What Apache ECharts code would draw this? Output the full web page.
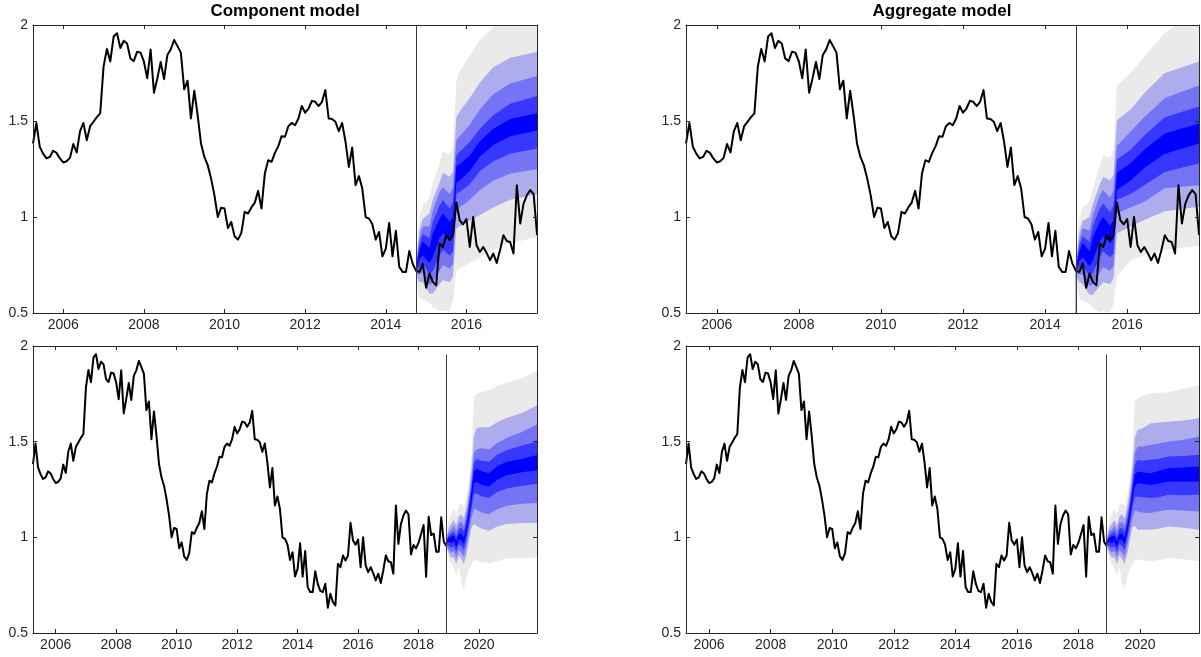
<!DOCTYPE html>
<html><head><meta charset="utf-8">
<script src="https://cdn.jsdelivr.net/npm/echarts@6/dist/echarts.min.js"></script>
<style>html,body{margin:0;padding:0;background:#fff}#c{width:1201px;height:657px}</style>
</head><body><div id="c"></div>
<script>
// ---------- history (monthly, from April 2005) ----------
const histStart = 2005.25;
const hist2005 = [1.383, 1.49, 1.366, 1.33, 1.305, 1.313, 1.345, 1.334, 1.305];
const hist2006 = [1.284, 1.29, 1.308, 1.38, 1.336, 1.447, 1.49, 1.40, 1.473, 1.496, 1.52, 1.54];
const hist2007 = [1.783, 1.875, 1.81, 1.94, 1.957, 1.88, 1.918, 1.904, 1.826, 1.812, 1.861, 1.856];
const hist2008 = [1.81, 1.722, 1.873, 1.647, 1.722, 1.807, 1.718, 1.844, 1.873, 1.922, 1.89, 1.856];
const hist2009 = [1.665, 1.71, 1.513, 1.658, 1.53, 1.383, 1.313, 1.27, 1.20, 1.113, 1.0, 1.049];
const hist2010 = [1.044, 0.943, 0.974, 0.90, 0.882, 0.917, 1.027, 1.018, 1.05, 1.075, 1.136, 1.044];
const hist2011 = [1.227, 1.296, 1.287, 1.334, 1.369, 1.421, 1.418, 1.473, 1.49, 1.478, 1.513, 1.578];
const hist2012 = [1.543, 1.565, 1.605, 1.60, 1.578, 1.60, 1.661, 1.513, 1.51, 1.496, 1.447, 1.49];
const hist2013 = [1.392, 1.261, 1.362, 1.166, 1.213, 1.148, 1.0, 0.992, 0.962, 0.882, 0.922, 0.795];
const hist2014 = [0.835, 0.969, 0.795, 0.928, 0.74, 0.714, 0.714, 0.823, 0.757, 0.72, 0.714, 0.757];
const hist2015 = [0.632, 0.705, 0.662, 0.644, 0.862, 0.844, 0.905, 0.879, 0.905, 1.076, 0.983, 0.962];
const hist2016 = [0.989, 0.844, 1.0, 0.853, 0.818, 0.844, 0.813, 0.775, 0.81, 0.761, 0.827, 0.905];
const hist2017 = [0.875, 0.87, 0.81, 1.166, 0.966, 1.07, 1.114, 1.14, 1.119, 0.91, 0.96, 0.942];
const hist2018 = [0.972, 1.017, 1.064, 0.794, 1.108, 1.012, 1.02, 0.925, 0.925, 1.105, 0.977, 0.955];

// ---------- axes ----------
const originTop = 2014.75;          // Oct 2014
const originBottom = 2018 + 11/12;  // Dec 2018
const xMinAll = 2005.25;
const xMaxTop = 2017.75;
const xMaxBottom = 2021 + 11/12;
const yearTicksTop = [2006, 2008, 2010, 2012, 2014, 2016];
const yearTicksBottom = [2006, 2008, 2010, 2012, 2014, 2016, 2018, 2020];
const titles = ['Component model', 'Aggregate model'];

// ---------- fan: Component model, 2014 origin (months ahead) ----------
const ctMonths = [0, 1, 2, 4, 5, 7, 8, 10, 11, 12, 13, 16, 19, 23, 28, 36];
const ctGT = [0.77, 1.00, 1.06, 1.10, 1.17, 1.28, 1.34, 1.33, 1.37, 1.71, 1.76, 1.84, 1.92, 1.99, 2.06, 2.12];
const ctLT = [0.755, 0.93, 0.99, 1.02, 1.09, 1.18, 1.23, 1.21, 1.24, 1.52, 1.55, 1.62, 1.70, 1.78, 1.83, 1.86];
const ctMT = [0.745, 0.89, 0.95, 0.95, 1.035, 1.13, 1.155, 1.12, 1.155, 1.40, 1.42, 1.48, 1.56, 1.64, 1.695, 1.735];
const ctBT = [0.738, 0.86, 0.91, 0.89, 0.975, 1.06, 1.088, 1.044, 1.08, 1.32, 1.34, 1.39, 1.46, 1.53, 1.59, 1.63];
const ctDT = [0.73, 0.83, 0.875, 0.84, 0.915, 0.99, 1.018, 0.975, 1.0, 1.265, 1.275, 1.32, 1.395, 1.46, 1.51, 1.54];
const ctDB = [0.72, 0.78, 0.80, 0.76, 0.79, 0.89, 0.914, 0.88, 0.90, 1.18, 1.19, 1.24, 1.315, 1.375, 1.42, 1.45];
const ctBB = [0.712, 0.74, 0.76, 0.70, 0.72, 0.80, 0.83, 0.80, 0.82, 1.12, 1.13, 1.17, 1.24, 1.29, 1.33, 1.357];
const ctMB = [0.705, 0.70, 0.71, 0.645, 0.66, 0.72, 0.75, 0.73, 0.757, 1.04, 1.05, 1.09, 1.14, 1.19, 1.225, 1.25];
const ctLB = [0.695, 0.66, 0.66, 0.60, 0.60, 0.65, 0.67, 0.66, 0.69, 0.94, 0.95, 0.98, 1.01, 1.05, 1.09, 1.12];
const ctGB = [0.68, 0.58, 0.57, 0.555, 0.53, 0.51, 0.514, 0.505, 0.566, 0.72, 0.73, 0.76, 0.79, 0.83, 0.865, 0.895];

// ---------- fan: Aggregate model, 2014 origin ----------
const atMonths = [0, 1, 2, 4, 5, 7, 8, 10, 11, 12, 16, 20, 26, 36];
const atGT = [0.77, 0.99, 1.05, 1.08, 1.15, 1.27, 1.32, 1.31, 1.35, 1.68, 1.75, 1.835, 1.96, 2.07];
const atLT = [0.755, 0.92, 0.98, 1.00, 1.07, 1.17, 1.21, 1.19, 1.22, 1.505, 1.56, 1.645, 1.75, 1.81];
const atMT = [0.745, 0.88, 0.94, 0.93, 1.01, 1.115, 1.14, 1.10, 1.135, 1.37, 1.445, 1.52, 1.62, 1.685];
const atBT = [0.738, 0.85, 0.90, 0.87, 0.955, 1.045, 1.07, 1.025, 1.06, 1.30, 1.35, 1.425, 1.52, 1.576];
const atDT = [0.73, 0.82, 0.865, 0.82, 0.895, 0.975, 1.0, 0.955, 0.985, 1.23, 1.28, 1.35, 1.435, 1.487];
const atDB = [0.72, 0.77, 0.79, 0.745, 0.775, 0.875, 0.90, 0.865, 0.885, 1.14, 1.19, 1.255, 1.33, 1.383];
const atBB = [0.712, 0.735, 0.75, 0.69, 0.71, 0.79, 0.82, 0.79, 0.81, 1.09, 1.12, 1.165, 1.235, 1.279];
const atMB = [0.705, 0.70, 0.70, 0.64, 0.65, 0.71, 0.74, 0.72, 0.745, 1.02, 1.05, 1.08, 1.15, 1.165];
const atLB = [0.695, 0.66, 0.65, 0.595, 0.595, 0.64, 0.66, 0.65, 0.68, 0.915, 0.95, 0.985, 1.03, 1.053];
const atGB = [0.68, 0.58, 0.565, 0.55, 0.525, 0.505, 0.51, 0.50, 0.55, 0.69, 0.775, 0.80, 0.83, 0.85];

// ---------- fan: Component model, 2018 origin ----------
const cbMonths = [0, 1, 2, 3, 4, 5, 6, 7, 8, 9, 10, 11, 12, 14, 17, 20, 24, 30, 36];
const cbGT = [1.00, 1.09, 1.12, 1.15, 1.12, 1.17, 1.18, 1.16, 1.22, 1.30, 1.42, 1.73, 1.75, 1.76, 1.77, 1.79, 1.81, 1.83, 1.87];
const cbLT = [0.99, 1.05, 1.07, 1.09, 1.06, 1.11, 1.12, 1.10, 1.16, 1.24, 1.36, 1.53, 1.57, 1.575, 1.575, 1.60, 1.625, 1.65, 1.69];
const cbMT = [0.985, 1.03, 1.04, 1.06, 1.03, 1.075, 1.08, 1.06, 1.12, 1.20, 1.31, 1.44, 1.46, 1.465, 1.46, 1.49, 1.52, 1.55, 1.59];
const cbBT = [0.98, 1.01, 1.02, 1.03, 1.00, 1.045, 1.05, 1.03, 1.09, 1.17, 1.27, 1.39, 1.41, 1.40, 1.395, 1.43, 1.455, 1.48, 1.50];
const cbDT = [0.975, 1.00, 1.005, 1.01, 0.98, 1.02, 1.02, 1.00, 1.06, 1.14, 1.24, 1.345, 1.36, 1.345, 1.335, 1.37, 1.395, 1.41, 1.43];
const cbDB = [0.97, 0.975, 0.97, 0.98, 0.95, 0.99, 0.985, 0.965, 1.02, 1.10, 1.19, 1.28, 1.29, 1.275, 1.265, 1.30, 1.325, 1.34, 1.35];
const cbBB = [0.965, 0.955, 0.945, 0.955, 0.925, 0.965, 0.955, 0.935, 0.99, 1.065, 1.15, 1.225, 1.23, 1.215, 1.205, 1.235, 1.255, 1.27, 1.28];
const cbMB = [0.96, 0.935, 0.92, 0.93, 0.895, 0.935, 0.92, 0.90, 0.955, 1.025, 1.10, 1.15, 1.145, 1.13, 1.12, 1.145, 1.165, 1.175, 1.18];
const cbLB = [0.955, 0.915, 0.895, 0.895, 0.86, 0.905, 0.885, 0.86, 0.91, 0.98, 1.05, 1.07, 1.06, 1.045, 1.035, 1.055, 1.07, 1.075, 1.075];
const cbGB = [0.95, 0.885, 0.86, 0.84, 0.80, 0.85, 0.76, 0.73, 0.79, 0.83, 0.86, 0.88, 0.88, 0.87, 0.865, 0.875, 0.89, 0.89, 0.895];

// ---------- fan: Aggregate model, 2018 origin ----------
const abMonths = [0, 1, 2, 3, 4, 5, 6, 7, 8, 9, 10, 11, 12, 14, 17, 20, 24, 30, 36];
const abGT = [1.00, 1.09, 1.12, 1.15, 1.12, 1.17, 1.18, 1.16, 1.22, 1.30, 1.42, 1.71, 1.726, 1.74, 1.752, 1.755, 1.76, 1.775, 1.795];
const abLT = [0.99, 1.05, 1.07, 1.09, 1.06, 1.11, 1.12, 1.10, 1.16, 1.24, 1.36, 1.52, 1.56, 1.57, 1.595, 1.60, 1.604, 1.61, 1.622];
const abMT = [0.985, 1.03, 1.04, 1.06, 1.03, 1.075, 1.08, 1.06, 1.12, 1.20, 1.31, 1.44, 1.474, 1.475, 1.483, 1.49, 1.50, 1.51, 1.526];
const abBT = [0.98, 1.01, 1.02, 1.03, 1.00, 1.045, 1.05, 1.03, 1.09, 1.17, 1.27, 1.38, 1.405, 1.40, 1.405, 1.41, 1.422, 1.425, 1.431];
const abDT = [0.975, 1.00, 1.005, 1.01, 0.98, 1.02, 1.02, 1.00, 1.06, 1.14, 1.24, 1.33, 1.344, 1.34, 1.335, 1.345, 1.361, 1.365, 1.37];
const abDB = [0.97, 0.975, 0.97, 0.98, 0.95, 0.99, 0.985, 0.965, 1.02, 1.10, 1.19, 1.27, 1.283, 1.28, 1.274, 1.28, 1.292, 1.29, 1.292];
const abBB = [0.965, 0.955, 0.945, 0.955, 0.925, 0.965, 0.955, 0.935, 0.99, 1.065, 1.15, 1.21, 1.214, 1.21, 1.205, 1.21, 1.222, 1.22, 1.222];
const abMB = [0.96, 0.935, 0.92, 0.93, 0.895, 0.935, 0.92, 0.90, 0.955, 1.025, 1.10, 1.14, 1.135, 1.13, 1.127, 1.135, 1.144, 1.14, 1.135];
const abLB = [0.955, 0.915, 0.895, 0.895, 0.86, 0.905, 0.885, 0.86, 0.91, 0.98, 1.05, 1.06, 1.04, 1.04, 1.04, 1.045, 1.057, 1.05, 1.04];
const abGB = [0.95, 0.885, 0.86, 0.84, 0.80, 0.85, 0.76, 0.73, 0.79, 0.83, 0.86, 0.88, 0.884, 0.88, 0.875, 0.88, 0.892, 0.885, 0.875];

// ---------- build ----------
const histValues = [].concat(hist2005, hist2006, hist2007, hist2008, hist2009, hist2010, hist2011,
  hist2012, hist2013, hist2014, hist2015, hist2016, hist2017, hist2018);
const histData = histValues.map((v, i) => [histStart + i / 12, v]);

// layered fills, drawn top boundary first; each fills down to axis minimum
const fillColors = ['#eaeaea', '#adadee', '#7474f4', '#3737ff', '#0000ff',
                    '#3737ff', '#7474f4', '#adadee', '#eaeaea', '#ffffff'];
const axisColor = '#262626';
const fontFam = 'Liberation Sans, Arial, Helvetica, sans-serif';

const grids = [
  {left: 33, top: 25, width: 504, height: 288},
  {left: 686, top: 25, width: 513, height: 288},
  {left: 33, top: 346, width: 504, height: 287},
  {left: 686, top: 346, width: 513, height: 287}
];
const panels = [
  {origin: originTop, xMax: xMaxTop, ticks: yearTicksTop, months: ctMonths,
   bounds: [ctGT, ctLT, ctMT, ctBT, ctDT, ctDB, ctBB, ctMB, ctLB, ctGB], vTop: 2.0},
  {origin: originTop, xMax: xMaxTop, ticks: yearTicksTop, months: atMonths,
   bounds: [atGT, atLT, atMT, atBT, atDT, atDB, atBB, atMB, atLB, atGB], vTop: 2.0},
  {origin: originBottom, xMax: xMaxBottom, ticks: yearTicksBottom, months: cbMonths,
   bounds: [cbGT, cbLT, cbMT, cbBT, cbDT, cbDB, cbBB, cbMB, cbLB, cbGB], vTop: 1.955},
  {origin: originBottom, xMax: xMaxBottom, ticks: yearTicksBottom, months: abMonths,
   bounds: [abGT, abLT, abMT, abBT, abDT, abDB, abBB, abMB, abLB, abGB], vTop: 1.955}
];

const xAxes = [], yAxes = [], series = [];
panels.forEach((p, i) => {
  const common = {type: 'value', gridIndex: i, min: xMinAll, max: p.xMax, z: 20,
    splitLine: {show: false},
    axisLine: {show: true, onZero: false, lineStyle: {color: axisColor, width: 1}}};
  xAxes.push(Object.assign({}, common, {position: 'bottom',
    axisTick: {show: true, inside: true, length: 4, customValues: p.ticks, lineStyle: {color: axisColor}},
    axisLabel: {show: true, customValues: p.ticks, margin: 5, color: axisColor, fontSize: 14,
      fontFamily: fontFam, formatter: v => String(v)}}));
  xAxes.push(Object.assign({}, common, {position: 'top',
    axisTick: {show: true, inside: true, length: 4, customValues: p.ticks, lineStyle: {color: axisColor}},
    axisLabel: {show: false, customValues: p.ticks}}));
  const ycommon = {type: 'value', gridIndex: i, min: 0.5, max: 2, interval: 0.5, z: 20,
    splitLine: {show: false},
    axisLine: {show: true, onZero: false, lineStyle: {color: axisColor, width: 1}},
    axisTick: {show: true, inside: true, length: 4, lineStyle: {color: axisColor}}};
  yAxes.push(Object.assign({}, ycommon, {position: 'left',
    axisLabel: {show: true, margin: 5, color: axisColor, fontSize: 14, fontFamily: fontFam}}));
  yAxes.push(Object.assign({}, ycommon, {position: 'right', axisLabel: {show: false}}));

  p.bounds.forEach((b, k) => {
    series.push({type: 'line', xAxisIndex: 2 * i, yAxisIndex: 2 * i, z: 2 + k,
      silent: true, showSymbol: false, symbol: 'none', clip: true, animation: false,
      lineStyle: {width: 0, opacity: 0},
      areaStyle: {origin: 'start', color: fillColors[k], opacity: 1},
      data: p.months.map((m, j) => [p.origin + m / 12, b[j]])});
  });
  series.push({type: 'line', xAxisIndex: 2 * i, yAxisIndex: 2 * i, z: 14,
    silent: true, showSymbol: false, symbol: 'none', clip: true, animation: false,
    lineStyle: {color: '#000000', width: 2, join: 'round'},
    data: histData,
    markLine: {silent: true, symbol: 'none', animation: false, z: 16, label: {show: false},
      lineStyle: {color: '#3a3a3a', width: 1, type: 'solid'},
      data: [[{coord: [p.origin, 0.5]}, {coord: [p.origin, p.vTop]}]]}});
});

const chart = echarts.init(document.getElementById('c'), null, {renderer: 'canvas'});
chart.setOption({
  animation: false,
  backgroundColor: '#ffffff',
  title: [
    {text: titles[0], left: 280, top: -2, textAlign: 'center',
     textStyle: {fontSize: 17, fontWeight: 'bold', color: '#000', fontFamily: fontFam}},
    {text: titles[1], left: 937, top: -2, textAlign: 'center',
     textStyle: {fontSize: 17, fontWeight: 'bold', color: '#000', fontFamily: fontFam}}
  ],
  grid: grids,
  xAxis: xAxes,
  yAxis: yAxes,
  series: series
});
</script></body></html>
